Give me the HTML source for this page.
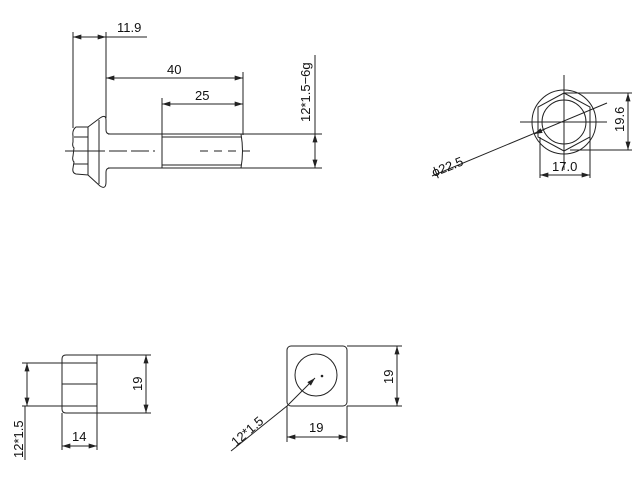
<!DOCTYPE html>
<html><head><style>body{margin:0;background:#fff}svg{display:block}text{font-family:"Liberation Sans",sans-serif;font-size:13px;fill:#111;stroke:none}</style></head><body>
<svg width="640" height="480" viewBox="0 0 640 480" stroke="#222" stroke-width="1" fill="none">
<defs><marker id="a" viewBox="0 0 10 6" refX="10" refY="3" markerWidth="9" markerHeight="5" orient="auto-start-reverse"><path d="M0,0L10,3L0,6z" fill="#222" stroke="none"/></marker></defs>
<line x1="73" y1="32" x2="73" y2="128"/><line x1="106" y1="32" x2="106" y2="118"/>
<line x1="73" y1="37" x2="106" y2="37" marker-start="url(#a)" marker-end="url(#a)"/><line x1="106" y1="37" x2="147" y2="37"/>
<text x="117" y="32">11.9</text>
<line x1="106" y1="78" x2="243" y2="78" marker-start="url(#a)" marker-end="url(#a)"/><text x="167" y="74">40</text>
<line x1="243" y1="72" x2="243" y2="135"/>
<line x1="162" y1="104" x2="243" y2="104" marker-start="url(#a)" marker-end="url(#a)"/><text x="195" y="100">25</text>
<line x1="162" y1="98" x2="162" y2="168"/>
<line x1="108" y1="134" x2="322" y2="134"/><line x1="108" y1="168" x2="322" y2="168"/>
<line x1="162" y1="137" x2="241" y2="137"/><line x1="162" y1="165" x2="241" y2="165"/>
<path d="M241,134 Q244,151 241,168"/>
<line x1="65" y1="151" x2="155" y2="151" stroke-dasharray="18,4"/><line x1="200" y1="151" x2="253" y2="151" stroke-dasharray="8,6"/>
<path d="M88,127 L100,118 Q106,114 106,120 L106,130 Q106,134 110,134"/>
<path d="M88,175 L100,186 Q106,190 106,182 L106,172 Q106,168 110,168"/>
<path d="M88,127 L76,127 Q72,130 73,136 L73,142 Q72,146 74,148 L73,156 Q72,160 74,162 L73,168 Q72,173 76,174 L88,175 Z"/>
<line x1="74" y1="137" x2="88" y2="137"/><line x1="74" y1="151" x2="88" y2="151"/><line x1="74" y1="164" x2="88" y2="164"/>
<line x1="99" y1="120" x2="99" y2="184"/>
<line x1="315" y1="55" x2="315" y2="168"/><line x1="315" y1="145" x2="315" y2="134" marker-end="url(#a)"/><line x1="315" y1="158" x2="315" y2="168" marker-end="url(#a)"/>
<text transform="translate(310,122) rotate(-90)">12*1.5−6g</text>
<circle cx="564" cy="122" r="32"/><circle cx="564" cy="122" r="22"/>
<path d="M564,93 L590,107 L590,137 L564,151 L538,137 L538,107 Z"/>
<line x1="520" y1="122" x2="607" y2="122"/><line x1="564" y1="75" x2="564" y2="170"/>
<line x1="564" y1="93" x2="632" y2="93"/><line x1="570" y1="150" x2="632" y2="150"/>
<line x1="628" y1="93" x2="628" y2="150" marker-start="url(#a)" marker-end="url(#a)"/>
<text transform="translate(624,132) rotate(-90)">19.6</text>
<line x1="540" y1="137" x2="540" y2="178"/><line x1="590" y1="137" x2="590" y2="178"/>
<line x1="540" y1="175" x2="590" y2="175" marker-start="url(#a)" marker-end="url(#a)"/><text x="552" y="171">17.0</text>
<line x1="432" y1="176" x2="607" y2="103"/><line x1="545" y1="129" x2="534" y2="134" marker-end="url(#a)"/>
<text transform="translate(434,177) rotate(-22)">ϕ22.5</text>
<path d="M97,355 L66,355 Q62,355 62,359 L62,409 Q62,413 66,413 L97,413 Z"/>
<line x1="62" y1="363" x2="97" y2="363"/><line x1="62" y1="384" x2="97" y2="384"/><line x1="62" y1="406" x2="97" y2="406"/>
<line x1="22" y1="363" x2="62" y2="363"/><line x1="22" y1="406" x2="62" y2="406"/>
<line x1="27" y1="363" x2="27" y2="406" marker-start="url(#a)" marker-end="url(#a)"/><line x1="25" y1="406" x2="25" y2="460"/>
<text transform="translate(23,458) rotate(-90)">12*1.5</text>
<line x1="97" y1="355" x2="151" y2="355"/><line x1="97" y1="413" x2="151" y2="413"/>
<line x1="146" y1="355" x2="146" y2="413" marker-start="url(#a)" marker-end="url(#a)"/>
<text transform="translate(142,391) rotate(-90)">19</text>
<line x1="62" y1="413" x2="62" y2="450"/><line x1="97" y1="413" x2="97" y2="450"/>
<line x1="62" y1="446" x2="97" y2="446" marker-start="url(#a)" marker-end="url(#a)"/><text x="72" y="441">14</text>
<rect x="287" y="346" width="60" height="60" rx="4"/><circle cx="316" cy="375" r="21"/>
<circle cx="322" cy="376" r="0.8" fill="#222"/>
<line x1="231" y1="451" x2="287" y2="406"/><line x1="287" y1="406" x2="315" y2="378" marker-end="url(#a)"/>
<text transform="translate(236,447) rotate(-41)">12*1.5</text>
<line x1="347" y1="346" x2="402" y2="346"/><line x1="347" y1="406" x2="402" y2="406"/>
<line x1="397" y1="346" x2="397" y2="406" marker-start="url(#a)" marker-end="url(#a)"/>
<text transform="translate(393,384) rotate(-90)">19</text>
<line x1="287" y1="406" x2="287" y2="442"/><line x1="347" y1="406" x2="347" y2="442"/>
<line x1="287" y1="437" x2="347" y2="437" marker-start="url(#a)" marker-end="url(#a)"/><text x="309" y="432">19</text>
</svg></body></html>
